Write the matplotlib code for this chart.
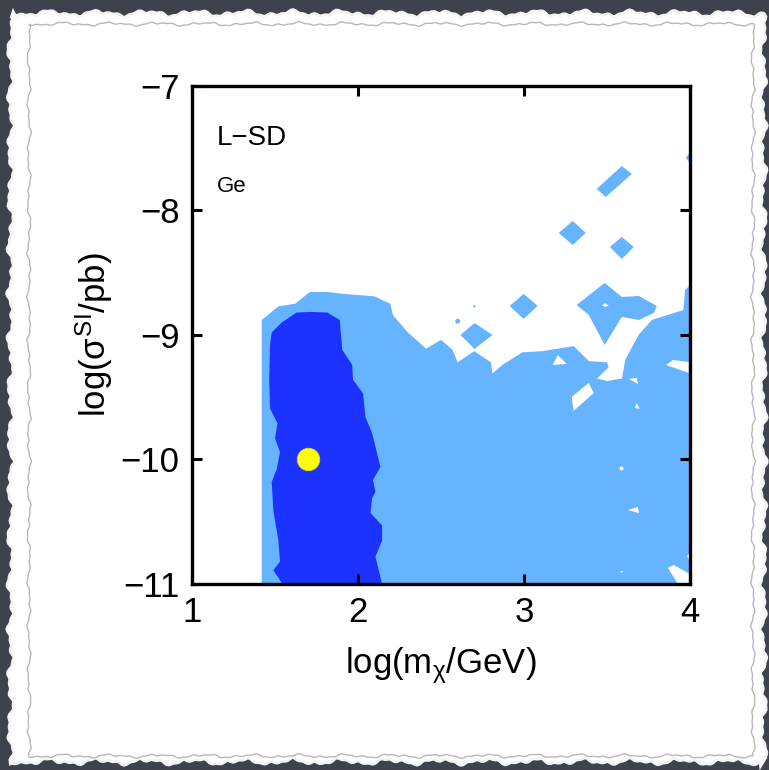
import numpy as np
import matplotlib
matplotlib.use("Agg")
import matplotlib.pyplot as plt
from matplotlib.patches import Polygon

# --- data: confidence regions in (log m, log sigma) ---
light_region = [
    (1.42, -11.0), (1.42, -8.88), (1.52, -8.77), (1.62, -8.75), (1.71, -8.655),
    (1.815, -8.655), (1.91, -8.67), (2.10, -8.69), (2.195, -8.75), (2.21, -8.84),
    (2.30, -8.98), (2.41, -9.11), (2.50, -9.04), (2.57, -9.12), (2.60, -9.22),
    (2.70, -9.13), (2.80, -9.22), (2.81, -9.31), (2.87, -9.24), (2.99, -9.14),
    (3.11, -9.13), (3.30, -9.09), (3.39, -9.21), (3.50, -9.22), (3.51, -9.26),
    (3.44, -9.35), (3.50, -9.37), (3.59, -9.35), (3.61, -9.20), (3.69, -9.00),
    (3.77, -8.88), (3.96, -8.80), (3.97, -8.64), (4.0, -8.60), (4.0, -11.0),
]

dark_region = [
    (1.47, -9.08), (1.48, -8.98), (1.54, -8.90), (1.63, -8.82), (1.71, -8.815),
    (1.815, -8.82), (1.89, -8.88), (1.905, -9.12), (1.965, -9.24), (1.97, -9.36),
    (2.03, -9.47), (2.045, -9.66), (2.085, -9.79), (2.135, -10.06), (2.09, -10.165),
    (2.105, -10.26), (2.085, -10.31), (2.075, -10.43), (2.145, -10.53), (2.145, -10.65),
    (2.105, -10.78), (2.145, -11.0), (1.545, -11.0), (1.49, -10.89), (1.53, -10.82),
    (1.52, -10.65), (1.49, -10.41), (1.48, -10.18), (1.51, -10.08), (1.53, -9.94),
    (1.50, -9.83), (1.515, -9.71), (1.47, -9.59), (1.465, -9.36),
]

light_islands = [
    [(3.317, -8.759), (3.486, -8.582), (3.589, -8.695), (3.692, -8.687), (3.800, -8.767),
     (3.782, -8.823), (3.692, -8.880), (3.589, -8.855), (3.486, -9.080), (3.390, -8.839)],
    [(2.617, -9.0), (2.702, -8.904), (2.810, -9.0), (2.702, -9.112)],
    [(2.913, -8.767), (2.998, -8.671), (3.082, -8.767), (2.998, -8.871)],
    [(3.209, -8.181), (3.293, -8.084), (3.372, -8.181), (3.293, -8.277)],
    [(3.517, -8.293), (3.589, -8.213), (3.661, -8.293), (3.589, -8.390)],
    [(3.438, -7.827), (3.589, -7.643), (3.649, -7.707), (3.492, -7.892)],
    [(3.975, -7.578), (3.993, -7.546), (4.0, -7.578), (3.993, -7.610)],
]

holes = [
    [(3.47, -8.76), (3.49, -8.745), (3.51, -8.765), (3.49, -8.775)],
    [(3.173, -9.241), (3.203, -9.161), (3.257, -9.233)],
    [(3.287, -9.498), (3.390, -9.386), (3.420, -9.466), (3.299, -9.610)],
    [(3.855, -9.241), (3.897, -9.201), (3.993, -9.217), (3.993, -9.305)],
    [(3.631, -9.353), (3.680, -9.345), (3.686, -9.394)],
    [(3.667, -9.586), (3.679, -9.546), (3.697, -9.594)],
    [(3.625, -10.406), (3.686, -10.382), (3.692, -10.430)],
    [(3.577, -10.90), (3.60, -10.898), (3.59, -10.91)],
    [(3.867, -10.871), (3.903, -10.847), (3.988, -10.912), (4.0, -10.912),
     (4.0, -11.0), (3.927, -11.0)],
    [(3.982, -10.775), (4.0, -10.751), (4.0, -10.823)],
]

speck_x = [2.60, 2.70]
speck_y = [-8.89, -8.77]
hole_dot_x = [3.583]
hole_dot_y = [-10.068]

best_fit_x = [1.7]
best_fit_y = [-10.0]

x_ticks = [1, 2, 3, 4]
y_ticks = [-11, -10, -9, -8, -7]

LIGHT = "#66b3ff"
DARK = "#1c33ff"
fonts = ["Liberation Sans Narrow", "Liberation Sans", "DejaVu Sans"]

plt.rcParams["font.family"] = fonts
plt.rcParams["mathtext.fontset"] = "custom"
plt.rcParams["mathtext.rm"] = "Liberation Sans"
plt.rcParams["mathtext.it"] = "Liberation Sans"

fig = plt.figure(figsize=(7.69, 7.70), dpi=100)
fig.patch.set_facecolor("#3e424d")

# torn paper background
bg = fig.add_axes([0, 0, 1, 1], zorder=0)
bg.set_xlim(0, 769)
bg.set_ylim(770, 0)
bg.axis("off")
t = np.linspace(0, 1, 400)
wig = 2.0 * np.sin(t * 97) + 1.2 * np.sin(t * 211 + 1.3) + 0.8 * np.sin(t * 433 + 0.4)
top = np.column_stack([13 + t * 750, 15 + wig])
right = np.column_stack([762 + wig, 15 + t * 747])
bottom = np.column_stack([763 - t * 750, 760 + wig[::-1]])
left = np.column_stack([12 + wig[::-1], 762 - t * 747])
edge = np.vstack([top, right, bottom, left])
bg.add_patch(Polygon(edge, closed=True, facecolor="#e6e6e6", edgecolor="#f4f4f4", lw=4))
bg.add_patch(Polygon(edge, closed=True, facecolor="white", edgecolor="none"))
inner = np.vstack([
    np.column_stack([29 + t * 724, 24 + 0.6 * wig]),
    np.column_stack([753 + 0.6 * wig, 24 + t * 732]),
    np.column_stack([753 - t * 724, 756 + 0.6 * wig[::-1]]),
    np.column_stack([29 + 0.6 * wig[::-1], 756 - t * 732]),
])
bg.add_patch(Polygon(inner, closed=True, facecolor="none", edgecolor="#b8b8b8", lw=1.0))

ax = fig.add_axes([0.2497, 0.2416, 0.6476, 0.6468], zorder=1)
ax.set_facecolor("white")

ax.add_patch(Polygon(light_region, closed=True, facecolor=LIGHT, edgecolor="none"))
for isl in light_islands:
    ax.add_patch(Polygon(isl, closed=True, facecolor=LIGHT, edgecolor="none"))
for h in holes:
    ax.add_patch(Polygon(h, closed=True, facecolor="white", edgecolor="none"))
ax.add_patch(Polygon(dark_region, closed=True, facecolor=DARK, edgecolor="none"))
ax.scatter(speck_x, speck_y, s=[12, 3], color=LIGHT, linewidths=0)
ax.scatter(hole_dot_x, hole_dot_y, s=8, color="white", linewidths=0)

ax.scatter(best_fit_x, best_fit_y, s=260, color="#ffff00", edgecolors="#e6de00",
           linewidths=0.6, zorder=5)

ax.set_xlim(1, 4)
ax.set_ylim(-11, -7)
ax.set_xticks(x_ticks)
ax.set_yticks(y_ticks)
ax.set_xticklabels([str(v) for v in x_ticks])
ax.set_yticklabels(["\u2212" + str(abs(v)) for v in y_ticks])
ax.tick_params(direction="in", length=7, width=2.2, labelsize=25,
               top=True, right=True, pad=9)
for sp in ax.spines.values():
    sp.set_linewidth(2.4)

ax.set_xlabel(r"log(m$_{\chi}$/GeV)", fontsize=25, labelpad=11)
ax.set_ylabel(r"log($\sigma^{\rm SI}$/pb)", fontsize=25, labelpad=4)

ax.text(1.15, -7.42, "L\u2212SD", fontsize=20, ha="left", va="center")
ax.text(1.15, -7.81, "Ge", fontsize=16, ha="left", va="center")

fig.savefig("out.png", dpi=100, facecolor=fig.get_facecolor())
